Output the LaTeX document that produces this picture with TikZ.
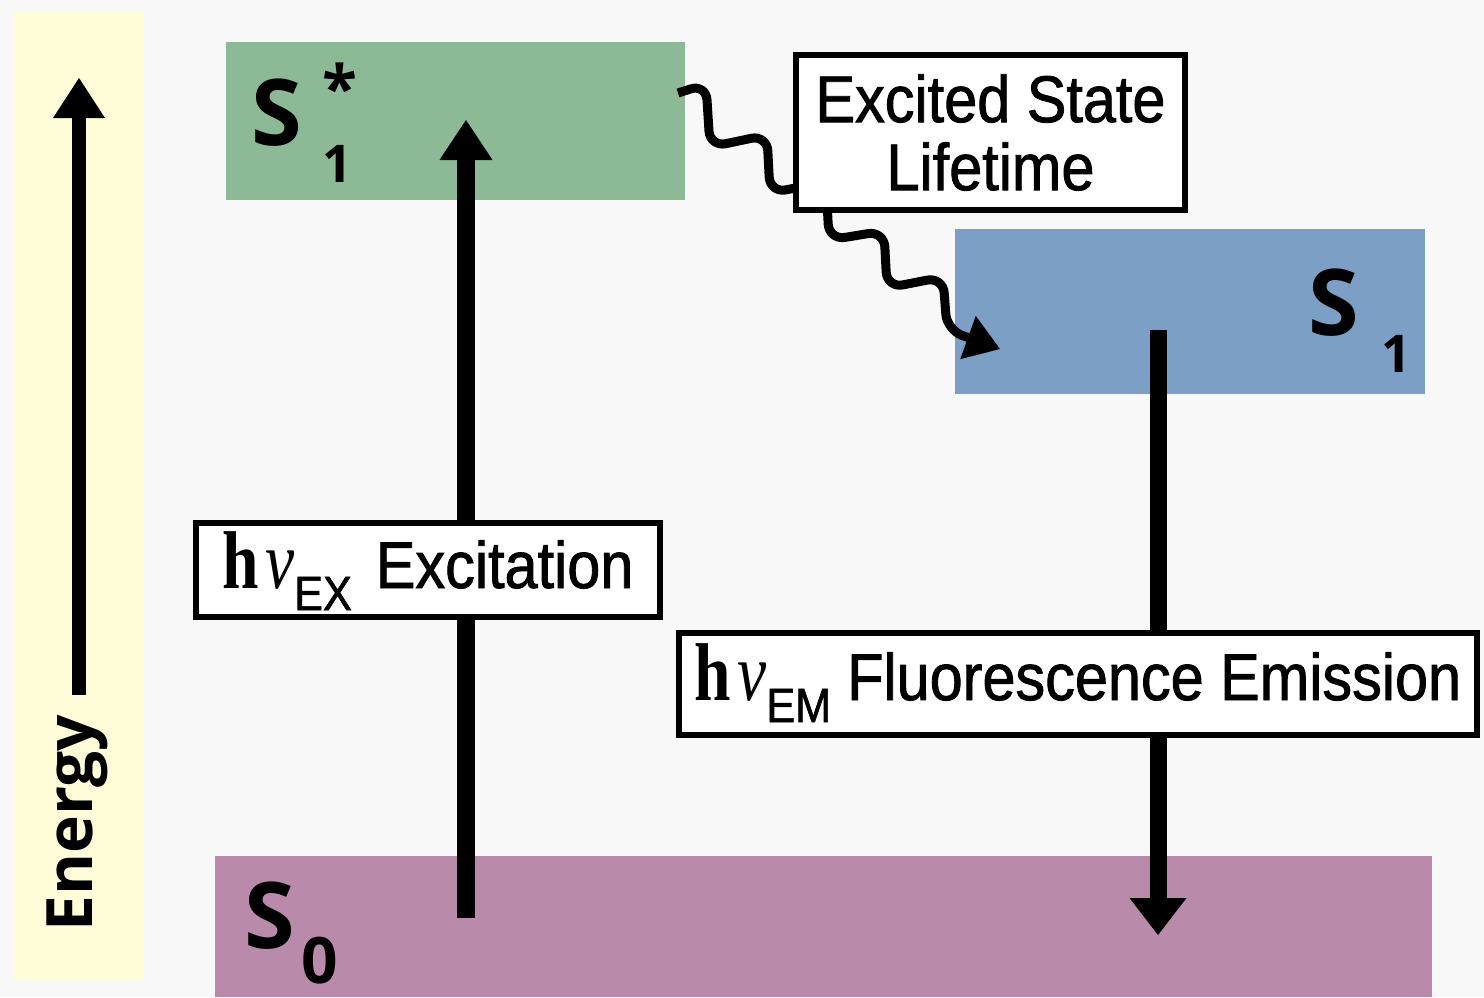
\documentclass[tikz,border=0pt]{standalone}
\usepackage{fontspec}
\usetikzlibrary{arrows.meta}
\setmainfont{Liberation Sans}
\newfontfamily\labfont[FakeStretch=0.9,FakeBold=1.3]{Liberation Sans}
\newfontfamily\hvfont[FakeStretch=0.8]{Liberation Serif}
\newfontfamily\lvlfont{Open Sans}
\definecolor{bgcol}{HTML}{F8F8F8}
\definecolor{energybg}{HTML}{FFFDD8}
\definecolor{s1starcol}{HTML}{8CBA96}
\definecolor{s1col}{HTML}{7B9FC5}
\definecolor{s0col}{HTML}{B98AAA}
\newcommand\hvtext[1]{{\hvfont\fontsize{41}{41}\selectfont\bfseries h\hspace{3pt}\mdseries\itshape ν}\raisebox{-11pt}{\labfont\fontsize{24}{24}\selectfont #1}}
\newcommand\lvlS[5]{% #1 gap, #2 subscript, #3 superscript, #4 subscript size, #5 subscript drop
  {\fontsize{46}{46}\selectfont S}\hspace{#1}\rlap{\raisebox{17pt}{\fontsize{32}{32}\selectfont #3}}\raisebox{-#5}{\fontsize{#4}{#4}\selectfont #2}}
\begin{document}
\begin{tikzpicture}[x=0.5pt,y=-0.5pt,
  lvlbox/.style={draw=none,inner sep=0pt,outer sep=0pt,rectangle},
  lvltext/.style={inner sep=0pt,anchor=base west,font=\lvlfont\bfseries},
  labbox/.style={draw=black,line width=3pt,fill=white,inner sep=0pt,align=center,
    font=\labfont\fontsize{33}{34}\selectfont},
  engarrow/.style={line width=7pt,-{Triangle[length=20pt,width=26pt,line width=0pt]}},
  exarrow/.style={line width=9pt,-{Triangle[length=20pt,width=26.5pt,line width=0pt]}},
  emarrow/.style={line width=8.5pt,-{Triangle[length=18.5pt,width=28.5pt,line width=0pt]}},
  wavy/.style={line width=4.5pt,rounded corners=8pt,line join=round,
    -{Triangle[length=17pt,width=23pt,line width=0pt]}}]
\useasboundingbox (0,0) rectangle (1484,997);
\fill[bgcol] (0,0) rectangle (1484,997);
% energy strip
\node[lvlbox,fill=energybg,minimum width=65pt,minimum height=484pt] (strip) at (78,496) {};
% level boxes
\node[lvlbox,fill=s1starcol,minimum width=229.5pt,minimum height=79pt] (s1star) at (455.5,121) {};
\node[lvlbox,fill=s1col,minimum width=235pt,minimum height=82.5pt] (s1) at (1190,311.5) {};
\node[lvlbox,fill=s0col,minimum width=608.5pt,minimum height=70.5pt] (s0) at (823.5,926.5) {};
% level labels
\node[lvltext] (s1starlab) at (251,145) {\lvlS{10pt}{1}{*}{26}{18.5pt}};
\node[lvltext] (s1lab) at (1308,335) {\lvlS{11pt}{1}{}{26}{18.5pt}};
\node[lvltext] (s0lab) at (244,948) {\lvlS{3pt}{0}{}{32}{17.5pt}};
% energy axis
\node[rotate=90,anchor=base,inner sep=0pt,font=\lvlfont\bfseries\fontsize{32}{32}\selectfont] (energy) at (92,823) {Energy};
\coordinate (entail) at (79,695);
\coordinate (entip) at (79,78);
\draw[engarrow] (entail) -- (entip);
% excitation
\coordinate (exfoot) at (466,918);
\coordinate (extip) at (466,120);
\draw[exarrow] (exfoot) -- (extip);
% emission
\coordinate (emtop) at (1158,330);
\coordinate (emtip) at (1158,935);
\draw[emarrow] (emtop) -- (emtip);
% relaxation (wavy)
\coordinate (wvstart) at (678,93);
\coordinate (wvtip) at (1000,349);
\draw[wavy] (wvstart) -- (706,84) -- (710,147) -- (767,135) -- (770,193) -- (826,182)
  -- (829,240) -- (884,231) -- (887,288) -- (943,277) -- (947,330) -- (wvtip);
% label boxes
\node[labbox,minimum width=194.5pt,minimum height=77.5pt] (lifelab) at (990.5,132.5) {Excited State\\Lifetime};
\node[labbox,minimum width=232pt,minimum height=47pt,text height=18pt,text depth=0pt] (exlab) at (428,570) {\hvtext{EX}\hspace{12pt}Excitation};
\node[labbox,minimum width=399pt,minimum height=51pt,text height=16pt,text depth=0pt] (emlab) at (1078,684) {\hvtext{EM}\hspace{8pt}Fluorescence Emission};
\end{tikzpicture}
\end{document}
